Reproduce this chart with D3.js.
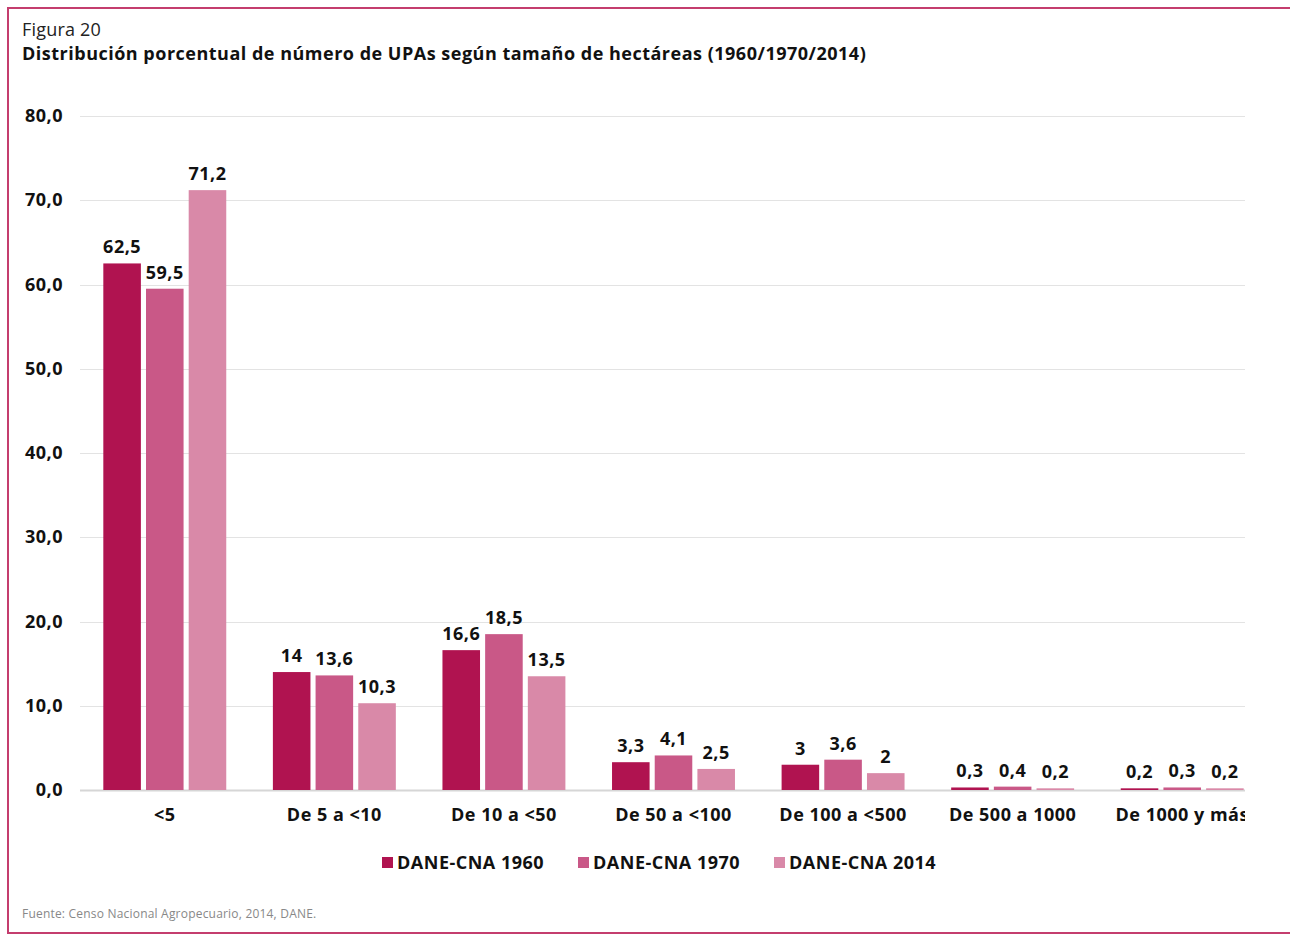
<!DOCTYPE html>
<html>
<head>
<meta charset="utf-8">
<script src="https://cdn.jsdelivr.net/npm/d3@7"></script>
<style>
  body { margin: 0; background: #fff; }
  svg { display: block; font-family: "Open Sans", "Noto Sans", sans-serif; }
</style>
</head>
<body>
<svg id="chart" width="1290" height="935"></svg>
<script>
// datos
var categories = ["<5", "De 5 a <10", "De 10 a <50", "De 50 a <100", "De 100 a <500", "De 500 a 1000", "De 1000 y más"];
var seriesNames = ["DANE-CNA 1960", "DANE-CNA 1970", "DANE-CNA 2014"];
var cna1960 = [62.5, 14, 16.6, 3.3, 3, 0.3, 0.2];
var cna1970 = [59.5, 13.6, 18.5, 4.1, 3.6, 0.4, 0.3];
var cna2014 = [71.2, 10.3, 13.5, 2.5, 2, 0.2, 0.2];
var yTicks = [0, 10, 20, 30, 40, 50, 60, 70, 80];
var colors = ["#b01350", "#c95887", "#d989a8"];

var seriesValues = [cna1960, cna1970, cna2014];
var svg = d3.select("#chart");

// texto en negrita (todos los rótulos usan el mismo estilo)
function bold(sel) {
  return sel.attr("font-size", 18).attr("font-weight", "bold")
    .attr("letter-spacing", 0.5).attr("fill", "#111");
}

// marco
svg.append("path")
  .attr("d", "M1290,8 H8 V933 H1290")
  .attr("fill", "none")
  .attr("stroke", "#c43d6e")
  .attr("stroke-width", 2);

svg.append("text").attr("x", 22).attr("y", 36)
  .attr("font-size", 18).attr("letter-spacing", 0.2).attr("fill", "#222").text("Figura 20");
svg.append("text").attr("x", 22).attr("y", 60)
  .call(bold)
  .text("Distribución porcentual de número de UPAs según tamaño de hectáreas (1960/1970/2014)");

var left = 80, right = 1245;
var y = d3.scaleLinear().domain([0, 80]).range([790, 116]);
var x0 = d3.scaleBand().domain(categories).range([left, 1267])
  .paddingInner(0.275).paddingOuter(0.1375);
var x1 = d3.scaleBand().domain(d3.range(3)).range([0, x0.bandwidth()]).paddingInner(0.12);

var fmt = function (v) { return d3.format(".1f")(v).replace(".", ","); };
var fmtLabel = function (v) { return String(v).replace(".", ","); };

// rejilla
svg.append("g").selectAll("line").data(yTicks).join("line")
  .attr("x1", left).attr("x2", right)
  .attr("y1", d => Math.round(y(d)) + 0.5).attr("y2", d => Math.round(y(d)) + 0.5)
  .attr("stroke", d => d === 0 ? "#d6d6d6" : "#e3e3e3").attr("stroke-width", d => d === 0 ? 2 : 1);

svg.append("g").selectAll("text").data(yTicks).join("text")
  .attr("x", 63).attr("y", d => y(d) + 6)
  .attr("text-anchor", "end").call(bold)
  .text(fmt);

svg.append("clipPath").attr("id", "plotclip")
  .append("rect").attr("x", 0).attr("y", 0).attr("width", right).attr("height", 935);

var plot = svg.append("g").attr("clip-path", "url(#plotclip)");

var groups = plot.selectAll("g.cat").data(categories).join("g")
  .attr("class", "cat")
  .attr("transform", d => `translate(${x0(d)},0)`);

groups.selectAll("rect").data((d, i) => seriesValues.map((s, k) => ({ k: k, v: s[i] }))).join("rect")
  .attr("x", d => x1(d.k)).attr("width", x1.bandwidth())
  .attr("y", d => y(d.v)).attr("height", d => y(0) - y(d.v))
  .attr("fill", d => colors[d.k]);

groups.selectAll("text.val").data((d, i) => seriesValues.map((s, k) => ({ k: k, v: s[i] }))).join("text")
  .attr("class", "val")
  .attr("x", d => x1(d.k) + x1.bandwidth() / 2).attr("y", d => y(d.v) - 10)
  .attr("text-anchor", "middle").call(bold)
  .text(d => fmtLabel(d.v));

plot.selectAll("text.cat").data(categories).join("text")
  .attr("class", "cat")
  .attr("x", d => x0(d) + x0.bandwidth() / 2).attr("y", 821)
  .attr("text-anchor", "middle").call(bold)
  .text(d => d);

// leyenda
var legendX = [382, 578, 774];
var legend = svg.append("g").selectAll("g").data(seriesNames).join("g")
  .attr("transform", (d, i) => `translate(${legendX[i]},857)`);
legend.append("rect").attr("width", 11).attr("height", 11).attr("fill", (d, i) => colors[i]);
legend.append("text").attr("x", 15).attr("y", 12).call(bold).text(d => d);

svg.append("text").attr("x", 22).attr("y", 918)
  .attr("font-size", 12).attr("letter-spacing", 0.2).attr("fill", "#888")
  .text("Fuente: Censo Nacional Agropecuario, 2014, DANE.");
</script>
</body>
</html>
